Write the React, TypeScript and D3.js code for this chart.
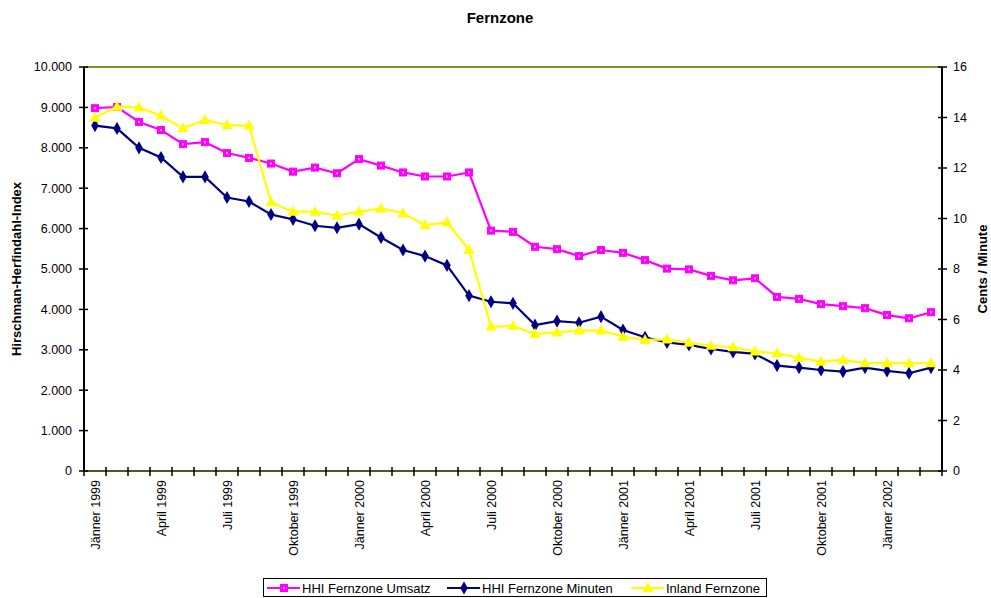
import React, { useEffect, useRef } from "react";
import * as d3 from "d3";

// monthly labels, Jänner 1999 .. März 2002
const monthNames = ["Jänner", "Februar", "März", "April", "Mai", "Juni", "Juli", "August", "September", "Oktober", "November", "Dezember"];
const months: string[] = [];
for (let y = 1999; y <= 2002; y++) {
  for (let m = 0; m < 12; m++) {
    if (y === 2002 && m > 2) break;
    months.push(`${monthNames[m]} ${y}`);
  }
}

const hhiUmsatz = [
  8980, 9010, 8640, 8440, 8090, 8140, 7870, 7750, 7610, 7410, 7510, 7370, 7720,
  7560, 7390, 7290, 7290, 7390, 5950, 5920, 5550, 5490, 5320, 5470, 5400, 5220,
  5010, 4990, 4830, 4720, 4770, 4310, 4260, 4130, 4080, 4030, 3860, 3780, 3930,
];

const hhiMinuten = [
  8550, 8480, 8000, 7760, 7280, 7280, 6770, 6670, 6350, 6230, 6070, 6020, 6110,
  5780, 5470, 5320, 5090, 4340, 4190, 4150, 3610, 3710, 3670, 3820, 3490, 3310,
  3180, 3120, 3020, 2950, 2900, 2610, 2560, 2500, 2460, 2560, 2480, 2420, 2560,
];

// Cents / Minute (right axis)
const inlandFernzone = [
  13.99, 14.43, 14.4, 14.07, 13.57, 13.9, 13.7, 13.68, 10.64, 10.27, 10.27, 10.11, 10.27,
  10.4, 10.21, 9.74, 9.85, 8.75, 5.72, 5.74, 5.43, 5.49, 5.56, 5.56, 5.32, 5.19,
  5.21, 5.08, 4.96, 4.9, 4.73, 4.66, 4.49, 4.33, 4.4, 4.27, 4.27, 4.27, 4.27,
];

const leftTicks = [0, 1000, 2000, 3000, 4000, 5000, 6000, 7000, 8000, 9000, 10000];
const rightTicks = [0, 2, 4, 6, 8, 10, 12, 14, 16];
const labelEvery = 3;

const FONT = "'Liberation Sans', Arial, sans-serif";

export default function App() {
  const ref = useRef<SVGSVGElement>(null);

  useEffect(() => {
    const svg = d3.select(ref.current);
    svg.selectAll("*").remove();

    const left = 84, right = 942, top = 67, bottom = 471;

    const x = d3.scaleBand<string>().domain(months).range([left, right]).padding(0);
    const yL = d3.scaleLinear().domain([0, 10000]).range([bottom, top]);
    const yR = d3.scaleLinear().domain([0, 16]).range([bottom, top]);
    const cx = (i: number) => (x(months[i]) as number) + x.bandwidth() / 2;

    svg.append("rect").attr("width", 991).attr("height", 598).attr("fill", "#fff");

    // title
    svg.append("text")
      .attr("x", 500).attr("y", 23)
      .attr("text-anchor", "middle")
      .attr("font-family", FONT).attr("font-size", 15).attr("font-weight", "bold")
      .text("Fernzone");

    // plot border (olive)
    svg.append("line").attr("x1", left).attr("x2", right).attr("y1", top).attr("y2", top)
      .attr("stroke", "#8a8a20").attr("stroke-width", 2);
    svg.append("line").attr("x1", left).attr("x2", right).attr("y1", bottom).attr("y2", bottom)
      .attr("stroke", "#555522").attr("stroke-width", 2);

    // left axis
    const gL = svg.append("g");
    gL.append("line").attr("x1", left).attr("x2", left).attr("y1", top).attr("y2", bottom)
      .attr("stroke", "#000").attr("stroke-width", 2);
    leftTicks.forEach((t) => {
      gL.append("line").attr("x1", left - 5).attr("x2", left + 4)
        .attr("y1", yL(t)).attr("y2", yL(t)).attr("stroke", "#000").attr("stroke-width", 1.5);
      gL.append("text").attr("x", left - 12).attr("y", yL(t)).attr("dy", "0.35em")
        .attr("text-anchor", "end").attr("font-family", FONT).attr("font-size", 12.5)
        .text(d3.format(",")(t).replace(/,/g, "."));
    });
    svg.append("text")
      .attr("transform", `translate(21,${(top + bottom) / 2}) rotate(-90)`)
      .attr("text-anchor", "middle").attr("font-family", FONT)
      .attr("font-size", 13).attr("font-weight", "bold")
      .text("Hirschman-Herfindahl-Index");

    // right axis
    const gR = svg.append("g");
    gR.append("line").attr("x1", right).attr("x2", right).attr("y1", top).attr("y2", bottom)
      .attr("stroke", "#000").attr("stroke-width", 2);
    rightTicks.forEach((t) => {
      gR.append("line").attr("x1", right - 4).attr("x2", right + 5)
        .attr("y1", yR(t)).attr("y2", yR(t)).attr("stroke", "#000").attr("stroke-width", 1.5);
      gR.append("text").attr("x", right + 11).attr("y", yR(t)).attr("dy", "0.35em")
        .attr("text-anchor", "start").attr("font-family", FONT).attr("font-size", 12.5)
        .text(t);
    });
    svg.append("text")
      .attr("transform", `translate(987,${(top + bottom) / 2}) rotate(-90)`)
      .attr("text-anchor", "middle").attr("font-family", FONT)
      .attr("font-size", 13).attr("font-weight", "bold")
      .text("Cents / Minute");

    // x axis ticks at band edges
    const edges = months.map((m) => x(m) as number).concat([right]);
    edges.forEach((e) => {
      svg.append("line").attr("x1", e).attr("x2", e).attr("y1", bottom - 4).attr("y2", bottom + 5)
        .attr("stroke", "#000").attr("stroke-width", 1.5);
    });
    months.forEach((m, i) => {
      if (i % labelEvery !== 0) return;
      svg.append("text")
        .attr("transform", `translate(${cx(i) + 4.5},${bottom + 9}) rotate(-90)`)
        .attr("text-anchor", "end").attr("font-family", FONT).attr("font-size", 12.5)
        .text(m);
    });

    const series = [
      { name: "HHI Fernzone Umsatz", values: hhiUmsatz, y: yL, color: "#ff00ff", marker: "square" },
      { name: "HHI Fernzone Minuten", values: hhiMinuten, y: yL, color: "#000080", marker: "diamond" },
      { name: "Inland Fernzone", values: inlandFernzone, y: yR, color: "#ffff00", marker: "triangle" },
    ];

    const drawMarker = (g: any, kind: string, px: number, py: number, color: string) => {
      if (kind === "square") {
        g.append("rect").attr("x", px - 3.5).attr("y", py - 3.5).attr("width", 7).attr("height", 7)
          .attr("fill", color).attr("stroke", color).attr("stroke-width", 1);
        g.append("rect").attr("x", px - 1).attr("y", py - 1).attr("width", 2).attr("height", 2)
          .attr("fill", "#ffb0ff");
      } else if (kind === "diamond") {
        g.append("path").attr("d", d3.symbol(d3.symbolDiamond, 50)()!)
          .attr("transform", `translate(${px},${py})`).attr("fill", color);
      } else {
        g.append("path").attr("d", `M${px},${py - 6}L${px + 5.5},${py + 4}L${px - 5.5},${py + 4}Z`)
          .attr("fill", color);
      }
    };

    series.forEach((s) => {
      const line = d3.line<number>().x((_, i) => cx(i)).y((d) => s.y(d));
      svg.append("path").datum(s.values).attr("d", line).attr("fill", "none")
        .attr("stroke", s.color).attr("stroke-width", 2.2);
      const g = svg.append("g");
      s.values.forEach((v, i) => drawMarker(g, s.marker, cx(i), s.y(v), s.color));
    });

    // legend
    const lg = svg.append("g");
    lg.append("rect").attr("x", 263.5).attr("y", 578.5).attr("width", 503).attr("height", 18)
      .attr("fill", "#fff").attr("stroke", "#000").attr("stroke-width", 1);
    const itemX = [267, 447, 631];
    series.forEach((s, i) => {
      const x0 = itemX[i];
      lg.append("line").attr("x1", x0).attr("x2", x0 + 33).attr("y1", 588).attr("y2", 588)
        .attr("stroke", s.color).attr("stroke-width", 2);
      drawMarker(lg, s.marker, x0 + 17, 588, s.color);
      lg.append("text").attr("x", x0 + 35).attr("y", 588).attr("dy", "0.35em")
        .attr("font-family", FONT).attr("font-size", 13).text(s.name);
    });
  }, []);

  return <svg ref={ref} width={991} height={598} style={{ display: "block", position: "absolute", left: 0, top: 0 }} />;
}
